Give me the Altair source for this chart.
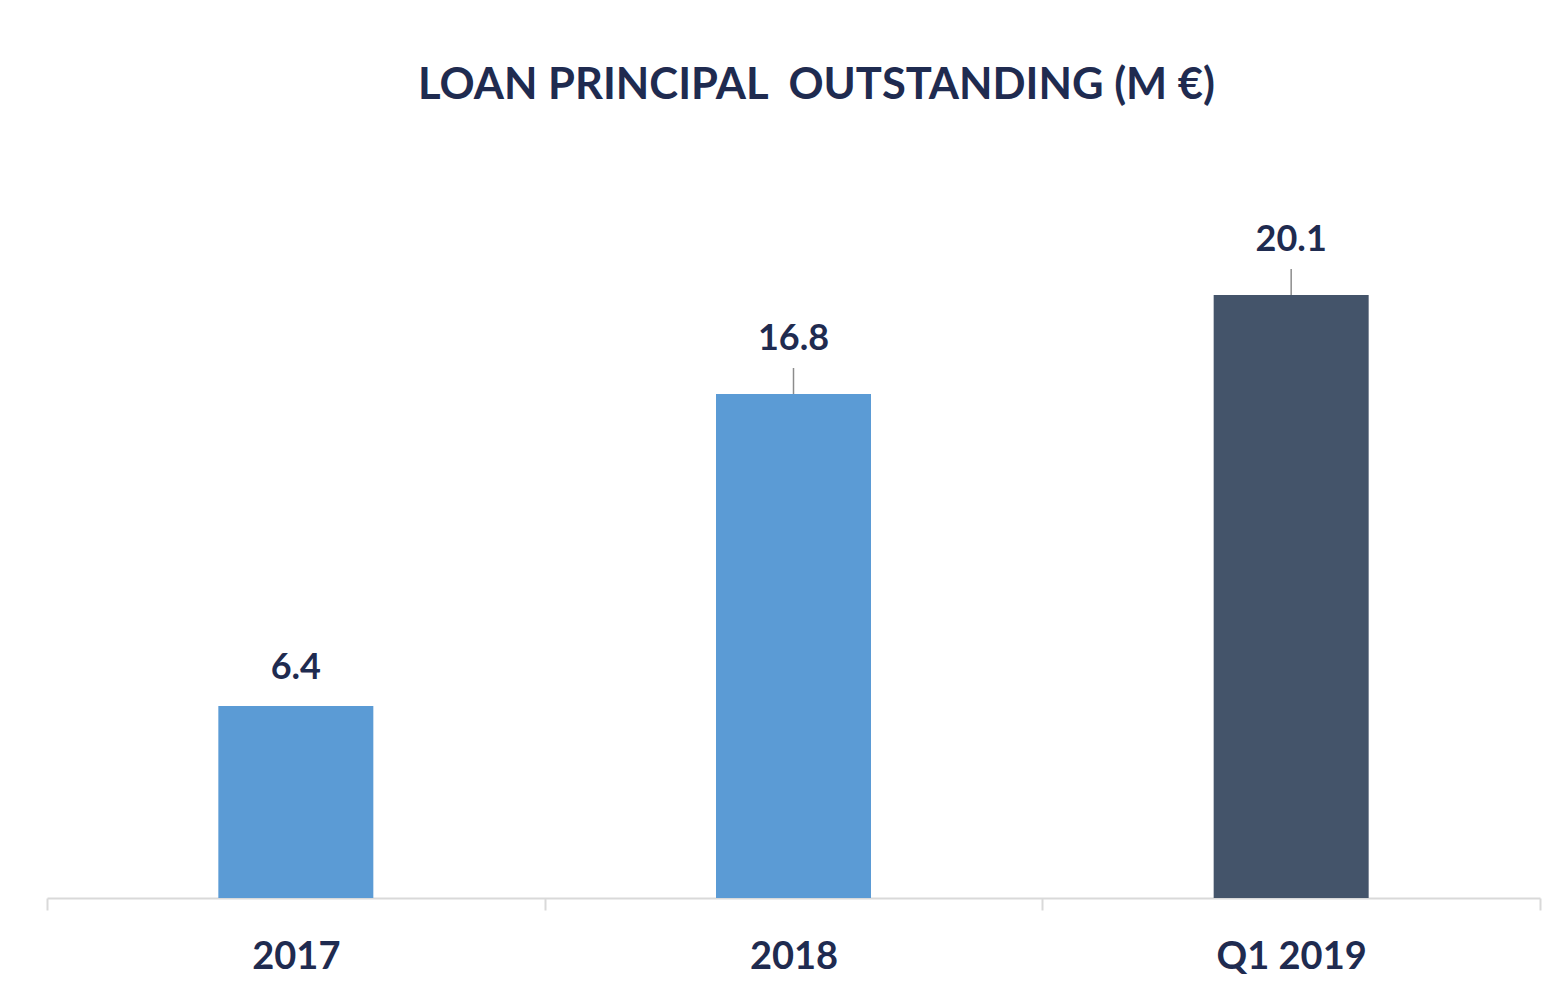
import altair as alt
import pandas as pd

categories = ["2017", "2018", "Q1 2019"]
values = [6.4, 16.8, 20.1]
bar_colors = ["#5B9BD5", "#5B9BD5", "#44546A"]
leader_categories = ["2018", "Q1 2019"]

df = pd.DataFrame({"category": categories, "value": values, "color": bar_colors})
df["leader"] = df["category"].isin(leader_categories)

NAVY = "#1F2B50"
FONT = "Lato"

x = alt.X("category:N", sort=categories, title=None,
          scale=alt.Scale(paddingInner=0, paddingOuter=0),
          axis=alt.Axis(labelAngle=0, labelFont=FONT, labelFontSize=38, labelFontWeight="bold",
                        labelColor=NAVY, domainColor="#D9D9D9", domainWidth=2,
                        tickColor="#D9D9D9", tickWidth=2, tickSize=12, tickBand="extent",
                        labelPadding=28))
y = alt.Y("value:Q", scale=alt.Scale(domain=[0, 25], nice=False), axis=None)

bars = alt.Chart(df).mark_bar(width=155).encode(
    x=x, y=y, color=alt.Color("color:N", scale=None)
)

leaders = alt.Chart(df).transform_filter("datum.leader").transform_calculate(
    top="datum.value + 26/30"
).mark_rule(color="#8C8C8C", strokeWidth=1.5).encode(
    x=alt.X("category:N", sort=categories), y="value:Q", y2="top:Q"
)

labels_near = alt.Chart(df).transform_filter("!datum.leader").mark_text(
    font=FONT, fontSize=36, fontWeight="bold", color=NAVY, baseline="middle", dy=-38
).encode(x=alt.X("category:N", sort=categories), y="value:Q", text=alt.Text("value:Q", format=".1f"))

labels_far = alt.Chart(df).transform_filter("datum.leader").mark_text(
    font=FONT, fontSize=36, fontWeight="bold", color=NAVY, baseline="middle", dy=-55
).encode(x=alt.X("category:N", sort=categories), y="value:Q", text=alt.Text("value:Q", format=".1f"))

chart = alt.layer(bars, leaders, labels_near, labels_far).properties(
    width=1493, height=750,
    title=alt.TitleParams("LOAN PRINCIPAL\u00a0 OUTSTANDING (M €)", font=FONT, fontSize=43.5,
                          fontWeight="bold", color=NAVY, anchor="middle", dx=23, offset=40),
    autosize=alt.AutoSizeParams(type="none"),
    padding={"left": 39, "top": 140, "right": 14, "bottom": 80},
    background="#FFFFFF",
).configure_view(stroke=None)

chart.save("out.html", embed_options={"renderer": "svg", "actions": False})
